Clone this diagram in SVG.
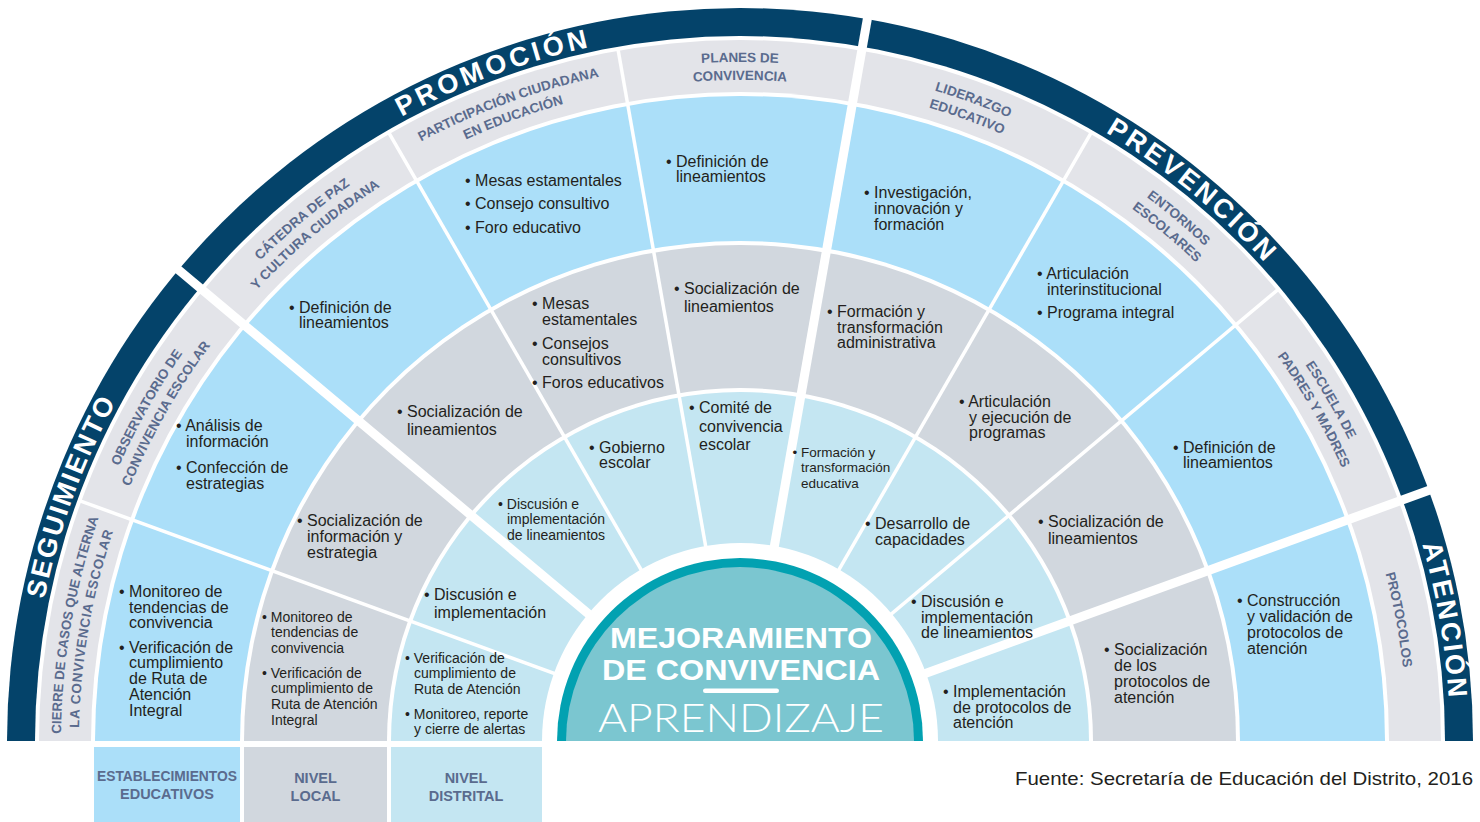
<svg xmlns="http://www.w3.org/2000/svg" width="1480" height="822" viewBox="0 0 1480 822">
<style>
.b{font-family:"Liberation Sans",Arial,sans-serif;font-size:16px;fill:#231f20}
.s{font-family:"Liberation Sans",Arial,sans-serif;font-size:14px;fill:#231f20}
.xs{font-family:"Liberation Sans",Arial,sans-serif;font-size:13.5px;fill:#231f20}
.lab{font-family:"Liberation Sans",Arial,sans-serif;font-size:13.5px;font-weight:bold;fill:#5a6b8e}
.ttl{font-family:"Liberation Sans",Arial,sans-serif;font-size:27px;font-weight:bold;fill:#ffffff}
.leg{font-family:"Liberation Sans",Arial,sans-serif;font-size:14.5px;font-weight:bold;fill:#5a6b8e}
.thin{stroke:#ffffff;stroke-width:3.5;fill:none}
.thick{stroke:#ffffff;stroke-width:9;fill:none}
.ctr{font-family:"Liberation Sans",Arial,sans-serif;font-weight:bold;font-size:29px;fill:#ffffff}
</style>
<defs>
<path id="arcT" d="M30,741 A710,710 0 0 1 1450,741"/>
<path id="arcO" d="M61,741 A679,679 0 0 1 1419,741"/>
<path id="arcI" d="M79,741 A661,661 0 0 1 1401,741"/>
<path id="arcP" d="M73,741 A667,667 0 0 1 1407,741"/>
</defs>
<rect width="1480" height="822" fill="#ffffff"/>

<g id="rings">
<path d="M7,741 A733,733 0 0 1 1473,741 Z" fill="#04436a"/>
<path d="M35,741 A705,705 0 0 1 1445,741 Z" fill="#ffffff"/>
<path d="M39,741 A701,701 0 0 1 1441,741 Z" fill="#e3e4e9"/>
<path d="M91,741 A649,649 0 0 1 1389,741 Z" fill="#ffffff"/>
<path d="M95,741 A645,645 0 0 1 1385,741 Z" fill="#abdff9"/>
<path d="M240,741 A500,500 0 0 1 1240,741 Z" fill="#ffffff"/>
<path d="M244,741 A496,496 0 0 1 1236,741 Z" fill="#d1d7de"/>
<path d="M387,741 A353,353 0 0 1 1093,741 Z" fill="#ffffff"/>
<path d="M391,741 A349,349 0 0 1 1089,741 Z" fill="#c4e6f2"/>
</g>

<g id="connectors">
<line class="thin" x1="740" y1="741" x2="1278.5" y2="289.1"/>
<line class="thin" x1="740" y1="741" x2="1091.5" y2="132.2"/>
<line class="thin" x1="740" y1="741" x2="617.9" y2="48.7"/>
<line class="thin" x1="740" y1="741" x2="388.5" y2="132.2"/>
<line class="thin" x1="740" y1="741" x2="79.4" y2="500.6"/>
<line class="thick" x1="740" y1="741" x2="1440.1" y2="486.2"/>
<line class="thick" x1="740" y1="741" x2="869.4" y2="7.3"/>
<line class="thick" x1="740" y1="741" x2="169.3" y2="262.1"/>
</g>

<g id="center">
<path d="M542,741 A198,198 0 0 1 938,741 Z" fill="#ffffff"/>
<path d="M557,741 A183,183 0 0 1 923,741 Z" fill="#02a1b1"/>
<path d="M566,741 A174,174 0 0 1 914,741 Z" fill="#7bc6d0"/>
<text class="ctr" x="741" y="648" text-anchor="middle" textLength="262" lengthAdjust="spacingAndGlyphs">MEJORAMIENTO</text>
<text class="ctr" x="741" y="680" text-anchor="middle" textLength="278" lengthAdjust="spacingAndGlyphs">DE CONVIVENCIA</text>
<rect x="703" y="688.5" width="76" height="4.5" rx="2.2" fill="#ffffff"/>
<text x="741" y="732" text-anchor="middle" textLength="286" lengthAdjust="spacingAndGlyphs" style="font-family:Lato,'Open Sans','Liberation Sans',sans-serif;font-weight:300;font-size:39px;fill:#ffffff">APRENDIZAJE</text>
</g>

<g id="section-titles">
<text class="ttl"><textPath href="#arcT" startOffset="11.11%" text-anchor="middle" textLength="210" lengthAdjust="spacing">SEGUIMIENTO</textPath></text>
<text class="ttl"><textPath href="#arcT" startOffset="38.67%" text-anchor="middle" textLength="200" lengthAdjust="spacing">PROMOCIÓN</textPath></text>
<text class="ttl"><textPath href="#arcT" startOffset="71.83%" text-anchor="middle" textLength="206" lengthAdjust="spacing">PREVENCIÓN</textPath></text>
<text class="ttl"><textPath href="#arcT" startOffset="94.56%" text-anchor="middle" textLength="156" lengthAdjust="spacing">ATENCIÓN</textPath></text>
</g>

<g id="labels">
<g id="lab-cierre">
<text class="lab"><textPath href="#arcO" startOffset="5.5%" text-anchor="middle" textLength="220" lengthAdjust="spacingAndGlyphs">CIERRE DE CASOS QUE ALTERNA</textPath></text>
<text class="lab"><textPath href="#arcI" startOffset="5.45%" text-anchor="middle" textLength="200" lengthAdjust="spacing">LA CONVIVENCIA ESCOLAR</textPath></text>
</g>
<g id="lab-observatorio">
<text class="lab"><textPath href="#arcO" startOffset="16.3%" text-anchor="middle">OBSERVATORIO DE</textPath></text>
<text class="lab"><textPath href="#arcI" startOffset="16.5%" text-anchor="middle">CONVIVENCIA ESCOLAR</textPath></text>
</g>
<g id="lab-catedra">
<text class="lab"><textPath href="#arcO" startOffset="27.78%" text-anchor="middle">CÁTEDRA DE PAZ</textPath></text>
<text class="lab"><textPath href="#arcI" startOffset="27.78%" text-anchor="middle">Y CULTURA CIUDADANA</textPath></text>
</g>
<g id="lab-participacion">
<text class="lab"><textPath href="#arcO" startOffset="38.89%" text-anchor="middle">PARTICIPACIÓN CIUDADANA</textPath></text>
<text class="lab"><textPath href="#arcI" startOffset="38.89%" text-anchor="middle">EN EDUCACIÓN</textPath></text>
</g>
<g id="lab-planes">
<text class="lab"><textPath href="#arcO" startOffset="50%" text-anchor="middle">PLANES DE</textPath></text>
<text class="lab"><textPath href="#arcI" startOffset="50%" text-anchor="middle">CONVIVENCIA</textPath></text>
</g>
<g id="lab-liderazgo">
<text class="lab"><textPath href="#arcO" startOffset="61.11%" text-anchor="middle">LIDERAZGO</textPath></text>
<text class="lab"><textPath href="#arcI" startOffset="61.11%" text-anchor="middle">EDUCATIVO</textPath></text>
</g>
<g id="lab-entornos">
<text class="lab"><textPath href="#arcO" startOffset="72.22%" text-anchor="middle">ENTORNOS</textPath></text>
<text class="lab"><textPath href="#arcI" startOffset="72.22%" text-anchor="middle">ESCOLARES</textPath></text>
</g>
<g id="lab-escuela">
<text class="lab"><textPath href="#arcO" startOffset="83.33%" text-anchor="middle">ESCUELA DE</textPath></text>
<text class="lab"><textPath href="#arcI" startOffset="83.33%" text-anchor="middle">PADRES Y MADRES</textPath></text>
</g>
<g id="lab-protocolos">
<text class="lab"><textPath href="#arcP" startOffset="94.2%" text-anchor="middle">PROTOCOLOS</textPath></text>
</g>
</g>

<g id="ring1">
<g id="r1-cierre"><text class="b"><tspan x="119" y="597">• Monitoreo de</tspan><tspan x="129" y="613">tendencias de</tspan><tspan x="129" y="628">convivencia</tspan><tspan x="119" y="653">• Verificación de</tspan><tspan x="129" y="668">cumplimiento</tspan><tspan x="129" y="684">de Ruta de</tspan><tspan x="129" y="700">Atención</tspan><tspan x="129" y="716">Integral</tspan></text></g>
<g id="r1-observatorio"><text class="b"><tspan x="176" y="431">• Análisis de</tspan><tspan x="186" y="447">información</tspan><tspan x="176" y="473">• Confección de</tspan><tspan x="186" y="489">estrategias</tspan></text></g>
<g id="r1-catedra"><text class="b"><tspan x="289" y="313">• Definición de</tspan><tspan x="299" y="328">lineamientos</tspan></text></g>
<g id="r1-participacion"><text class="b"><tspan x="465" y="186">• Mesas estamentales</tspan><tspan x="465" y="209">• Consejo consultivo</tspan><tspan x="465" y="233">• Foro educativo</tspan></text></g>
<g id="r1-planes"><text class="b"><tspan x="666" y="167">• Definición de</tspan><tspan x="676" y="182">lineamientos</tspan></text></g>
<g id="r1-liderazgo"><text class="b"><tspan x="864" y="198">• Investigación,</tspan><tspan x="874" y="214">innovación y</tspan><tspan x="874" y="230">formación</tspan></text></g>
<g id="r1-entornos"><text class="b"><tspan x="1037" y="279">• Articulación</tspan><tspan x="1047" y="295">interinstitucional</tspan><tspan x="1037" y="318">• Programa integral</tspan></text></g>
<g id="r1-escuela"><text class="b"><tspan x="1173" y="453">• Definición de</tspan><tspan x="1183" y="468">lineamientos</tspan></text></g>
<g id="r1-protocolos"><text class="b"><tspan x="1237" y="606">• Construcción</tspan><tspan x="1247" y="622">y validación de</tspan><tspan x="1247" y="638">protocolos de</tspan><tspan x="1247" y="654">atención</tspan></text></g>
</g>

<g id="ring2">
<g id="r2-cierre"><text class="s"><tspan x="262" y="622">• Monitoreo de</tspan><tspan x="271" y="637">tendencias de</tspan><tspan x="271" y="653">convivencia</tspan><tspan x="262" y="678">• Verificación de</tspan><tspan x="271" y="693">cumplimiento de</tspan><tspan x="271" y="709">Ruta de Atención</tspan><tspan x="271" y="725">Integral</tspan></text></g>
<g id="r2-observatorio"><text class="b"><tspan x="297" y="526">• Socialización de</tspan><tspan x="307" y="542">información y</tspan><tspan x="307" y="558">estrategia</tspan></text></g>
<g id="r2-catedra"><text class="b"><tspan x="397" y="417">• Socialización de</tspan><tspan x="407" y="435">lineamientos</tspan></text></g>
<g id="r2-participacion"><text class="b"><tspan x="532" y="309">• Mesas</tspan><tspan x="542" y="325">estamentales</tspan><tspan x="532" y="349">• Consejos</tspan><tspan x="542" y="365">consultivos</tspan><tspan x="532" y="388">• Foros educativos</tspan></text></g>
<g id="r2-planes"><text class="b"><tspan x="674" y="294">• Socialización de</tspan><tspan x="684" y="312">lineamientos</tspan></text></g>
<g id="r2-liderazgo"><text class="b"><tspan x="827" y="317">• Formación y</tspan><tspan x="837" y="333">transformación</tspan><tspan x="837" y="348">administrativa</tspan></text></g>
<g id="r2-entornos"><text class="b"><tspan x="959" y="407">• Articulación</tspan><tspan x="969" y="423">y ejecución de</tspan><tspan x="969" y="438">programas</tspan></text></g>
<g id="r2-escuela"><text class="b"><tspan x="1038" y="527">• Socialización de</tspan><tspan x="1048" y="544">lineamientos</tspan></text></g>
<g id="r2-protocolos"><text class="b"><tspan x="1104" y="655">• Socialización</tspan><tspan x="1114" y="671">de los</tspan><tspan x="1114" y="687">protocolos de</tspan><tspan x="1114" y="703">atención</tspan></text></g>
</g>

<g id="ring3">
<g id="r3-cierre"><text class="s"><tspan x="405" y="663">• Verificación de</tspan><tspan x="414" y="678">cumplimiento de</tspan><tspan x="414" y="694">Ruta de Atención</tspan><tspan x="405" y="719">• Monitoreo, reporte</tspan><tspan x="414" y="734">y cierre de alertas</tspan></text></g>
<g id="r3-observatorio"><text class="b"><tspan x="424" y="600">• Discusión e</tspan><tspan x="434" y="618">implementación</tspan></text></g>
<g id="r3-catedra"><text class="s"><tspan x="498" y="509">• Discusión e</tspan><tspan x="507" y="524">implementación</tspan><tspan x="507" y="540">de lineamientos</tspan></text></g>
<g id="r3-participacion"><text class="b"><tspan x="589" y="453">• Gobierno</tspan><tspan x="599" y="468">escolar</tspan></text></g>
<g id="r3-planes"><text class="b"><tspan x="689" y="413">• Comité de</tspan><tspan x="699" y="432">convivencia</tspan><tspan x="699" y="450">escolar</tspan></text></g>
<g id="r3-liderazgo"><text class="xs"><tspan x="792.5" y="457">• Formación y</tspan><tspan x="801" y="472">transformación</tspan><tspan x="801" y="488">educativa</tspan></text></g>
<g id="r3-entornos"><text class="b"><tspan x="865" y="529">• Desarrollo de</tspan><tspan x="875" y="545">capacidades</tspan></text></g>
<g id="r3-escuela"><text class="b"><tspan x="911" y="607">• Discusión e</tspan><tspan x="921" y="623">implementación</tspan><tspan x="921" y="638">de lineamientos</tspan></text></g>
<g id="r3-protocolos"><text class="b"><tspan x="943" y="697">• Implementación</tspan><tspan x="953" y="713">de protocolos de</tspan><tspan x="953" y="728">atención</tspan></text></g>
</g>

<g id="legend">
<g id="leg-establecimientos"><rect x="94" y="747" width="146" height="75" fill="#abdff9"/><text class="leg" text-anchor="middle"><tspan x="167" y="781" textLength="140" lengthAdjust="spacingAndGlyphs">ESTABLECIMIENTOS</tspan><tspan x="167" y="799">EDUCATIVOS</tspan></text></g>
<g id="leg-local"><rect x="244" y="747" width="143" height="75" fill="#d1d7de"/><text class="leg" text-anchor="middle"><tspan x="315.5" y="783">NIVEL</tspan><tspan x="315.5" y="801">LOCAL</tspan></text></g>
<g id="leg-distrital"><rect x="391" y="747" width="151" height="75" fill="#c4e6f2"/><text class="leg" text-anchor="middle"><tspan x="466" y="783">NIVEL</tspan><tspan x="466" y="801">DISTRITAL</tspan></text></g>
</g>

<text x="1473" y="785" text-anchor="end" textLength="458" lengthAdjust="spacingAndGlyphs" style="font-family:'Liberation Sans',Arial,sans-serif;font-size:18.5px;fill:#231f20">Fuente: Secretaría de Educación del Distrito, 2016</text>
</svg>
